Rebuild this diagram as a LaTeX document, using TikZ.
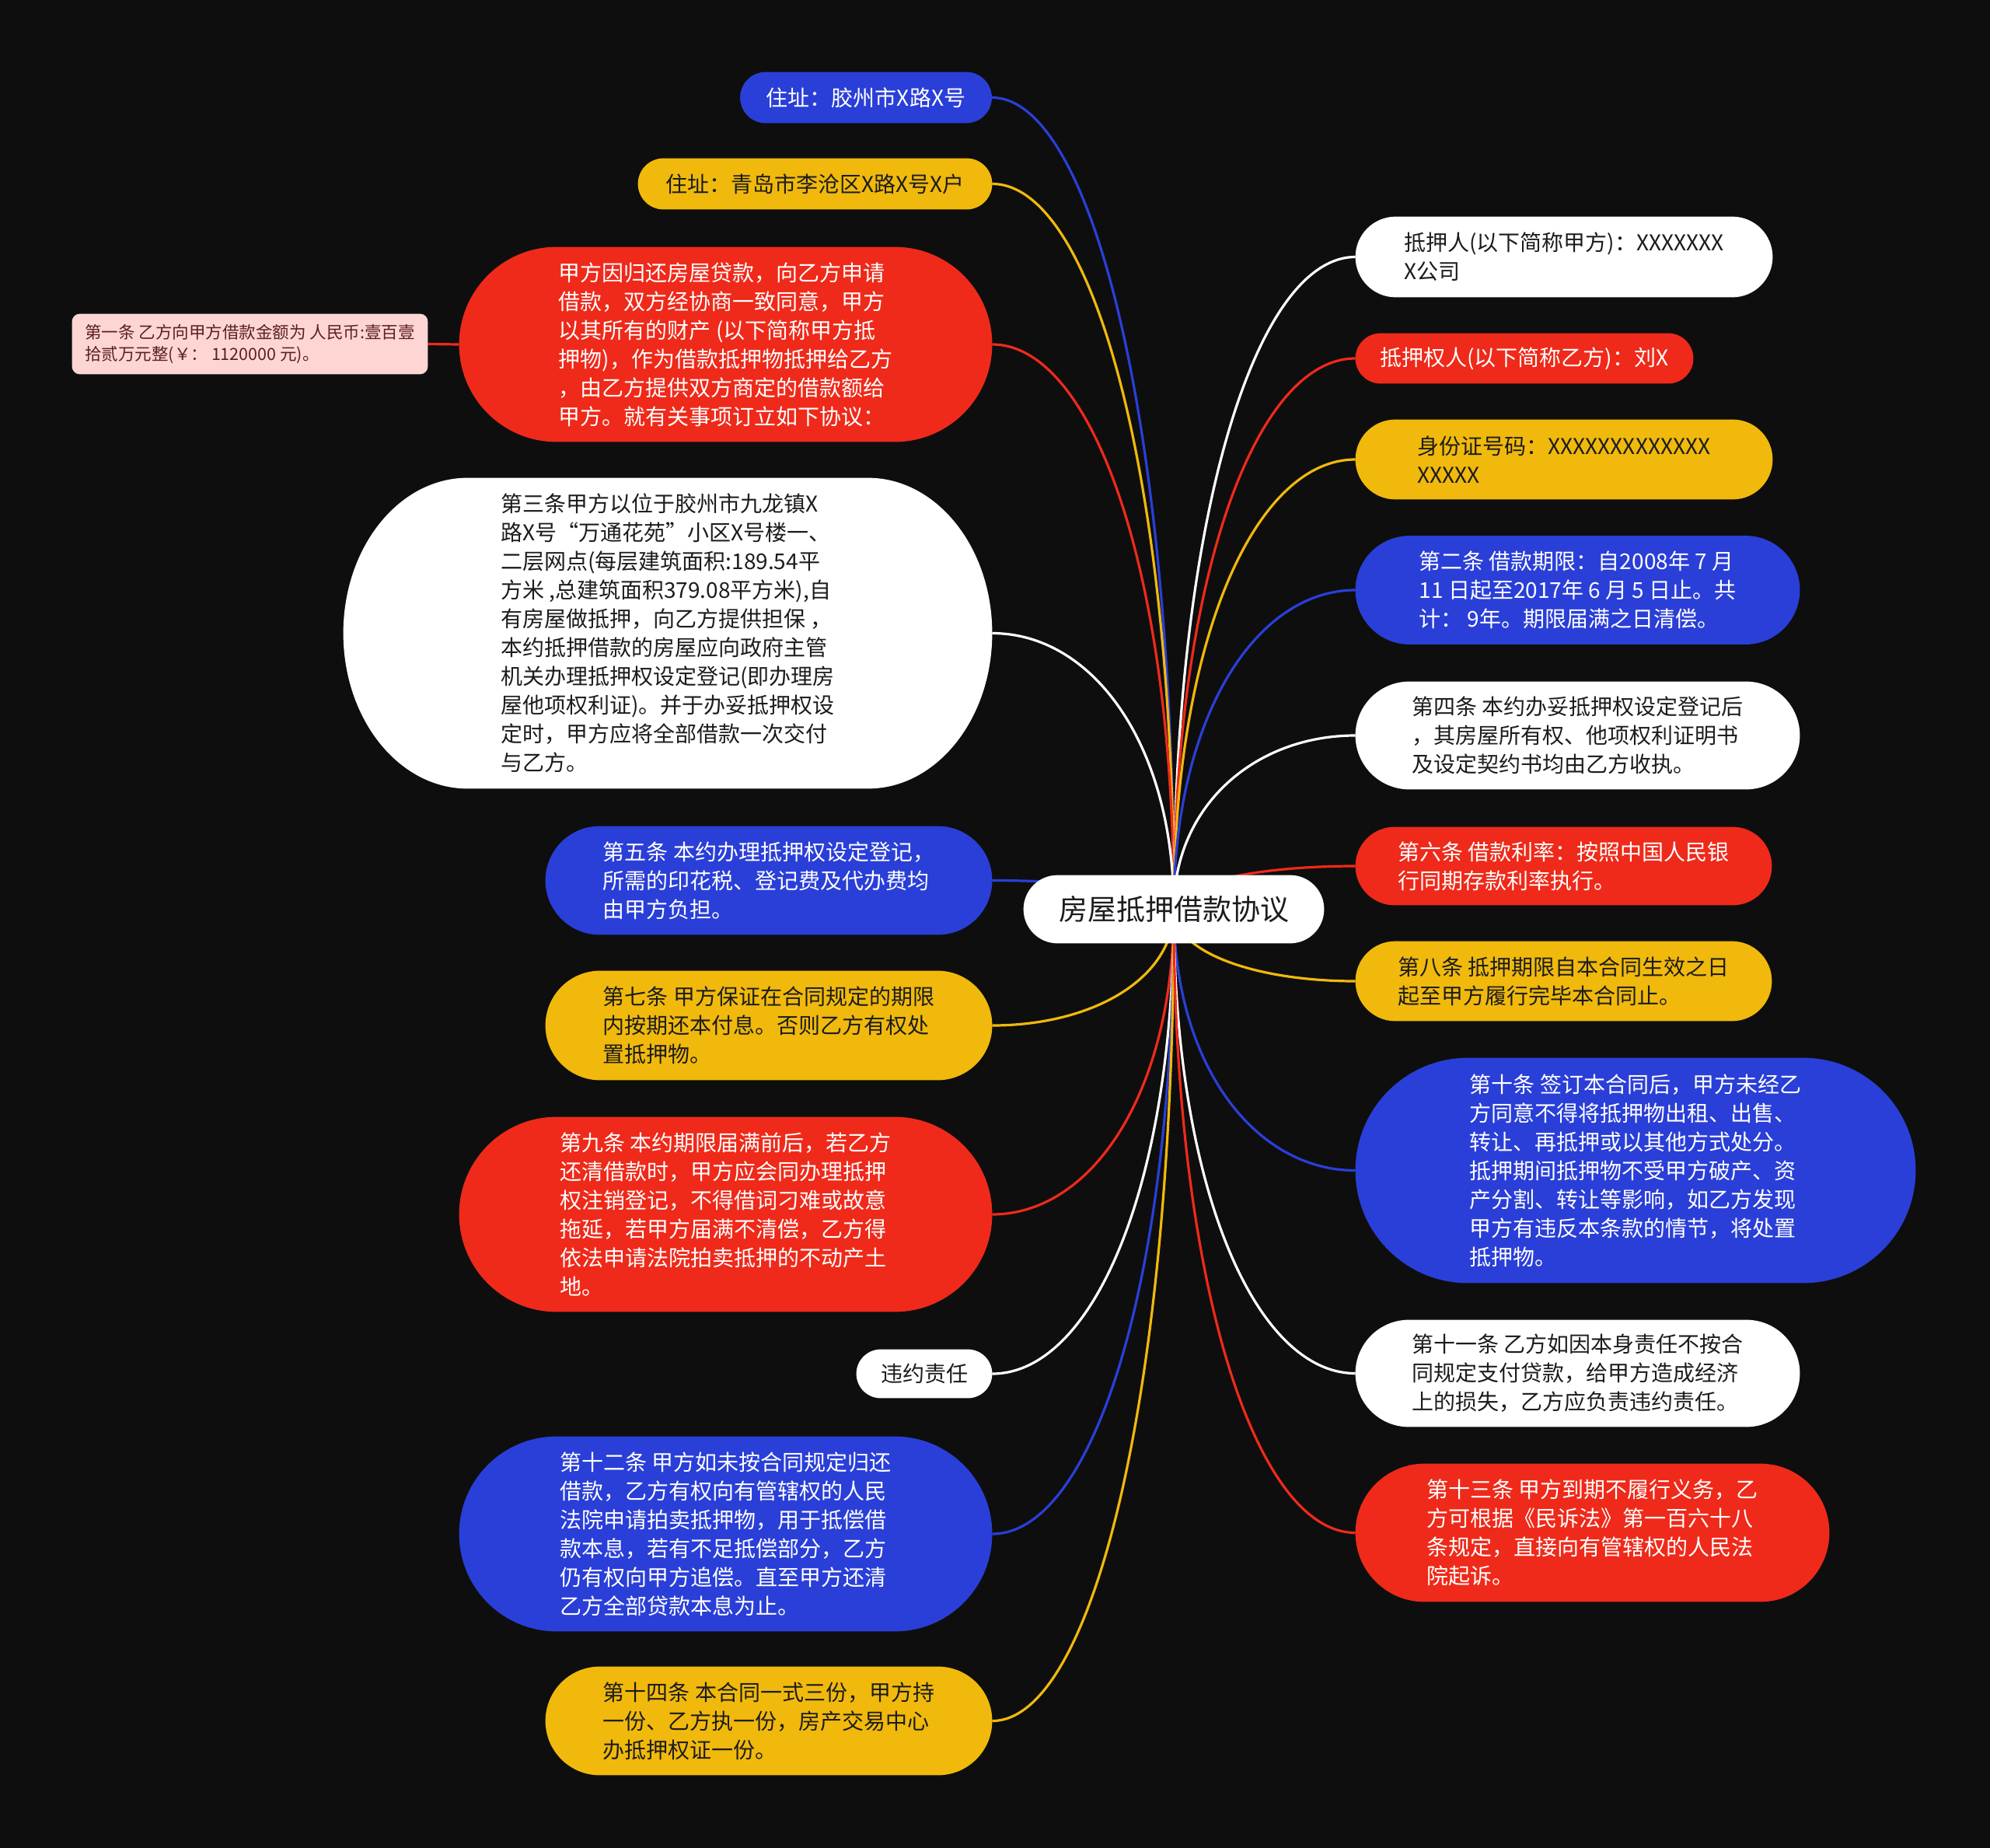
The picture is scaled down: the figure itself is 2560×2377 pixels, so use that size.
\documentclass[tikz,border=0pt]{standalone}
\usepackage{fontspec}
\setmainfont{Noto Sans CJK SC}
\usetikzlibrary{calc}
\definecolor{bgc}{HTML}{0E0E0E}
\definecolor{cred}{HTML}{EF2A1A}
\definecolor{cblue}{HTML}{2A3FD8}
\definecolor{cyel}{HTML}{F0B90C}
\definecolor{cpink}{HTML}{FDD6D3}
\definecolor{ctxt}{HTML}{1C1C1C}
\definecolor{pinktxt}{HTML}{5B1F1F}
\pgfdeclarelayer{lines}
\pgfdeclarelayer{shapes}
\pgfsetlayers{lines,shapes,main}
\tikzset{
  box/.style 2 args={inner sep=0pt, align=left, minimum width=#1*0.5pt, minimum height=#2*0.5pt, font=\fontsize{14pt}{18.5pt}\selectfont},
  dk/.style={text=ctxt},
  lt/.style={text=white},
  conn/.style={line width=1.6pt},
}
\newcommand\mmlink[2]{%
  \draw[conn,#1] (root.center) .. controls ($(root.center)!0.6!(root.center|-#2)$) and ($(#2)!0.55!(root.center|-#2)$) .. (#2);}
\newcommand\mmshape[2]{%
  \fill[#2] let \p1=(#1.north west), \p2=(#1.south east), \n1={min(0.5*(\y1-\y2),80pt)}, \n2={0.5*(\y1-\y2)} in
    (\x1+\n1,\y1) -- (\x2-\n1,\y1) arc[start angle=90,end angle=-90,x radius=\n1,y radius=\n2]
    -- (\x1+\n1,\y2) arc[start angle=270,end angle=90,x radius=\n1,y radius=\n2] -- cycle;}
\begin{document}
\begin{tikzpicture}[x=0.5pt,y=-0.5pt]
\useasboundingbox (0,0) rectangle (2560,2377);
% root
\node[box={386}{87}, dk, font=\fontsize{18.5pt}{22pt}\selectfont] (root) at (1510,1169.5) {房屋抵押借款协议};
% left side
\node[box={323}{65}, lt] (n1) at (1114,125.5) {住址：胶州市X路X号};
\node[box={455}{65}, dk] (n2) at (1048.5,236.5) {住址：青岛市李沧区X路X号X户};
\node[box={685}{250}, lt] (n3) at (933.5,443) {甲方因归还房屋贷款，向乙方申请\\借款，双方经协商一致同意，甲方\\以其所有的财产 (以下简称甲方抵\\押物)，作为借款抵押物抵押给乙方\\，由乙方提供双方商定的借款额给\\甲方。就有关事项订立如下协议：};
\node[box={457}{77}, text=pinktxt, font=\fontsize{10.75pt}{14pt}\selectfont] (pk) at (321.5,442.5) {第一条 乙方向甲方借款金额为 人民币:壹百壹\\拾贰万元整(￥： 1120000 元)。};
\node[box={834}{399}, dk] (n5) at (859,814.5) {第三条甲方以位于胶州市九龙镇X\\路X号“万通花苑”小区X号楼一、\\二层网点(每层建筑面积:189.54平\\方米 ,总建筑面积379.08平方米),自\\有房屋做抵押，向乙方提供担保 ，\\本约抵押借款的房屋应向政府主管\\机关办理抵押权设定登记(即办理房\\屋他项权利证)。并于办妥抵押权设\\定时，甲方应将全部借款一次交付\\与乙方。};
\node[box={574}{139}, lt] (n6) at (989,1132.5) {第五条 本约办理抵押权设定登记，\\所需的印花税、登记费及代办费均\\由甲方负担。};
\node[box={574}{140}, dk] (n7) at (989,1319) {第七条 甲方保证在合同规定的期限\\内按期还本付息。否则乙方有权处\\置抵押物。};
\node[box={685}{250}, lt] (n8) at (933.5,1562) {第九条 本约期限届满前后，若乙方\\还清借款时，甲方应会同办理抵押\\权注销登记，不得借词刁难或故意\\拖延，若甲方届满不清偿，乙方得\\依法申请法院拍卖抵押的不动产土\\地。};
\node[box={174}{62}, dk] (n9) at (1189,1767) {违约责任};
\node[box={685}{250}, lt] (n10) at (933.5,1973) {第十二条 甲方如未按合同规定归还\\借款，乙方有权向有管辖权的人民\\法院申请拍卖抵押物，用于抵偿借\\款本息，若有不足抵偿部分，乙方\\仍有权向甲方追偿。直至甲方还清\\乙方全部贷款本息为止。};
\node[box={574}{139}, dk] (n11) at (989,2213.5) {第十四条 本合同一式三份，甲方持\\一份、乙方执一份，房产交易中心\\办抵押权证一份。};
% right side
\node[box={536}{103}, dk] (r1) at (2012,330.5) {抵押人(以下简称甲方)：XXXXXXX\\X公司};
\node[box={434}{64}, lt] (r2) at (1961,461) {抵押权人(以下简称乙方)：刘X};
\node[box={536}{102}, dk] (r3) at (2012,591) {身份证号码：XXXXXXXXXXXXX\\XXXXX};
\node[box={571}{139}, lt] (r4) at (2029.5,759) {第二条 借款期限：自2008年 7 月\\11 日起至2017年 6 月 5 日止。共\\计： 9年。期限届满之日清偿。};
\node[box={571}{138}, dk] (r5) at (2029.5,946) {第四条 本约办妥抵押权设定登记后\\，其房屋所有权、他项权利证明书\\及设定契约书均由乙方收执。};
\node[box={535}{100}, lt] (r6) at (2011.5,1114) {第六条 借款利率：按照中国人民银\\行同期存款利率执行。};
\node[box={535}{102}, dk] (r7) at (2011.5,1262) {第八条 抵押期限自本合同生效之日\\起至甲方履行完毕本合同止。};
\node[box={720}{289}, lt] (r8) at (2104,1505.5) {第十条 签订本合同后，甲方未经乙\\方同意不得将抵押物出租、出售、\\转让、再抵押或以其他方式处分。\\抵押期间抵押物不受甲方破产、资\\产分割、转让等影响，如乙方发现\\甲方有违反本条款的情节，将处置\\抵押物。};
\node[box={571}{137}, dk] (r9) at (2029.5,1766.5) {第十一条 乙方如因本身责任不按合\\同规定支付贷款，给甲方造成经济\\上的损失，乙方应负责违约责任。};
\node[box={609}{177}, lt] (r10) at (2048.5,1971.5) {第十三条 甲方到期不履行义务，乙\\方可根据《民诉法》第一百六十八\\条规定，直接向有管辖权的人民法\\院起诉。};
% shapes
\begin{pgfonlayer}{shapes}
\mmshape{root}{white}
\mmshape{n1}{cblue}
\mmshape{n2}{cyel}
\mmshape{n3}{cred}
\fill[cpink, rounded corners=5pt] (pk.north west) rectangle (pk.south east);
\mmshape{n5}{white}
\mmshape{n6}{cblue}
\mmshape{n7}{cyel}
\mmshape{n8}{cred}
\mmshape{n9}{white}
\mmshape{n10}{cblue}
\mmshape{n11}{cyel}
\mmshape{r1}{white}
\mmshape{r2}{cred}
\mmshape{r3}{cyel}
\mmshape{r4}{cblue}
\mmshape{r5}{white}
\mmshape{r6}{cred}
\mmshape{r7}{cyel}
\mmshape{r8}{cblue}
\mmshape{r9}{white}
\mmshape{r10}{cred}
\end{pgfonlayer}
% connectors
\begin{pgfonlayer}{lines}
\fill[bgc] (0,0) rectangle (2560,2377);
\mmlink{cblue}{n1.east}
\mmlink{cyel}{n2.east}
\mmlink{cred}{n3.east}
\mmlink{white}{n5.east}
\mmlink{cblue}{n6.east}
\mmlink{cyel}{n7.east}
\mmlink{cred}{n8.east}
\mmlink{white}{n9.east}
\mmlink{cblue}{n10.east}
\mmlink{cyel}{n11.east}
\mmlink{white}{r1.west}
\mmlink{cred}{r2.west}
\mmlink{cyel}{r3.west}
\mmlink{cblue}{r4.west}
\mmlink{white}{r5.west}
\mmlink{cred}{r6.west}
\mmlink{cyel}{r7.west}
\mmlink{cblue}{r8.west}
\mmlink{white}{r9.west}
\mmlink{cred}{r10.west}
\draw[conn,cred] (n3.west) -- (pk.east);
\end{pgfonlayer}
\end{tikzpicture}
\end{document}
